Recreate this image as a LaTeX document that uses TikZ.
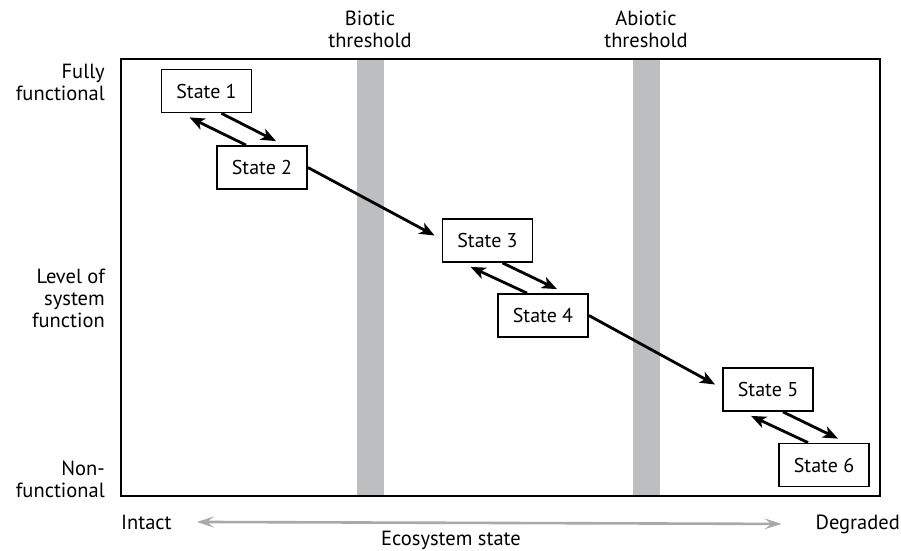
\documentclass[tikz,border=0pt]{standalone}
\usepackage{fontspec}
\setmainfont{PT Sans}
\usepackage{xcolor}
\usetikzlibrary{arrows.meta}

\definecolor{barGrey}{RGB}{188,190,192}
\definecolor{axisGrey}{RGB}{167,169,172}

\tikzset{
  state/.style={rectangle,draw=black,line width=1.8pt,fill=white,
    minimum width=90pt,minimum height=43pt,font=\fontsize{20}{22}\selectfont},
  lbl/.style={inner sep=0pt,align=center,font=\fontsize{20.5}{22}\selectfont},
  transit/.style={-{Stealth[length=15pt,width=12pt,inset=4pt]},line width=2.8pt},
  axisarrow/.style={{Stealth[length=17pt,width=11pt,inset=7pt]}-{Stealth[length=17pt,width=11pt,inset=7pt]},
    draw=axisGrey,line width=2.6pt}
}

\begin{document}
\begin{tikzpicture}[x=1pt,y=-1pt]
\useasboundingbox (0,0) rectangle (901,550);

% thresholds
\fill[barGrey] (357,59) rectangle (384,496);
\fill[barGrey] (633,59) rectangle (660,496);
\draw[line width=1.8pt] (121,59) rectangle (880,496);

\node at (370,29) [lbl] (biotic) {Biotic\\threshold};
\node at (646,29) [lbl] (abiotic) {Abiotic\\threshold};

% y axis
\node at (105,82)  [lbl,align=right,anchor=east] (full) {Fully\\functional};
\node at (105,298) [lbl,align=right,anchor=east] (level) {Level of\\system\\function};
\node at (105,479) [lbl,align=right,anchor=east] (nonf) {Non-\\functional};

% x axis
\node at (121,529) [lbl,anchor=base west] (intact) {Intact};
\node at (900,529) [lbl,anchor=base east] (degraded) {Degraded};
\node at (451,545) [lbl,anchor=base] (ecostate) {Ecosystem state};
\draw [axisarrow] ([xshift=25pt]intact.east) -- ([xshift=-34pt]degraded.west);

% states
\node at (206.5,91)  [state] (s1) {State 1};
\node at (262,167.5) [state] (s2) {State 2};
\node at (487.5,240.5) [state] (s3) {State 3};
\node at (543,315.5) [state] (s4) {State 4};
\node at (768,389.5) [state] (s5) {State 5};
\node at (824,465)   [state] (s6) {State 6};

\foreach \a/\b in {s1/s2,s3/s4,s5/s6} {
  \draw [transit] ([xshift=15pt]\a.south) -- ([xshift=14pt,yshift=4pt]\b.north);
  \draw [transit] ([xshift=-16pt]\b.north) -- ([xshift=-17pt,yshift=-4pt]\a.south);
}
\draw [transit] (s2.east) -- ([xshift=-7pt,yshift=5pt]s3.west);
\draw [transit] (s4.east) -- ([xshift=-7pt,yshift=5pt]s5.west);
\end{tikzpicture}
\end{document}
